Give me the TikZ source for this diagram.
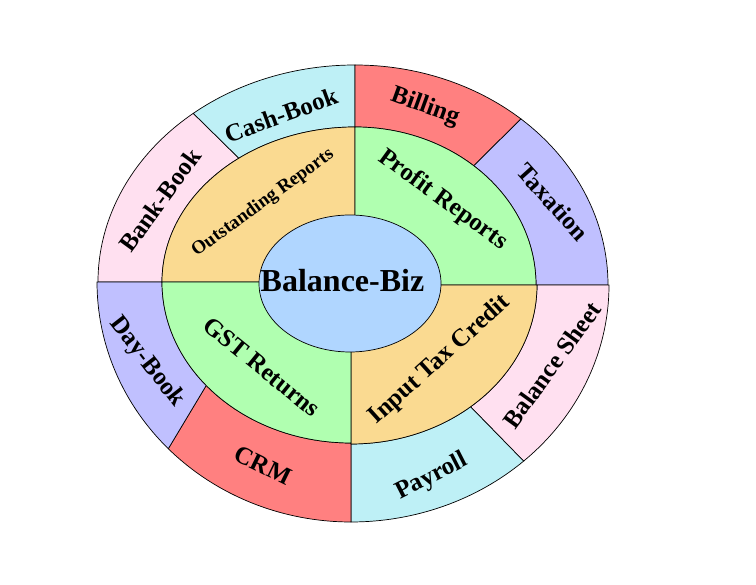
\documentclass[tikz,border=0pt]{standalone}
\usepackage{fontspec}
\setmainfont{Liberation Serif}
\usetikzlibrary{calc}

\definecolor{pinkc}{RGB}{255,224,240}
\definecolor{cyanc}{RGB}{190,240,246}
\definecolor{redc}{RGB}{255,128,128}
\definecolor{lavc}{RGB}{192,192,255}
\definecolor{orangec}{RGB}{250,218,145}
\definecolor{greenc}{RGB}{176,255,176}
\definecolor{bluec}{RGB}{176,214,255}

\begin{document}
\begin{tikzpicture}[x = 1pt, y = 1pt, line width = 0.7pt,
	lbl/.style = {font=\bfseries\fontsize{25}{30}\selectfont},
	small/.style = {font=\bfseries\fontsize{19}{23}\selectfont}]
		\path[use as bounding box, fill=white] (0,0) rectangle (756,585);
		\coordinate (tl) at (355,303);
		\coordinate (tr) at (355,300);
		\coordinate (br) at (351,300);
		\coordinate (bl) at (351,303);
		% outer ring
		\draw[fill=pinkc] ($(tl)+(180:257pt and 217pt)$) arc[start angle=180,end angle=129,x radius=257pt,y radius=217pt] -- ($(tl)+(127:193pt and 155pt)$) arc[start angle=127,end angle=180,x radius=193pt,y radius=155pt] -- cycle;
		\draw[fill=cyanc] ($(tl)+(129:257pt and 217pt)$) arc[start angle=129,end angle=90,x radius=257pt,y radius=217pt] -- ($(tl)+(90:193pt and 155pt)$) arc[start angle=90,end angle=127,x radius=193pt,y radius=155pt] -- cycle;
		\draw[fill=redc] ($(tr)+(90:253pt and 220pt)$) arc[start angle=90,end angle=49,x radius=253pt,y radius=220pt] -- ($(tr)+(49:181pt and 158pt)$) arc[start angle=49,end angle=90,x radius=181pt,y radius=158pt] -- cycle;
		\draw[fill=lavc] ($(tr)+(49:253pt and 220pt)$) arc[start angle=49,end angle=0,x radius=253pt,y radius=220pt] -- ($(tr)+(0:181pt and 158pt)$) arc[start angle=0,end angle=49,x radius=181pt,y radius=158pt] -- cycle;
		\draw[fill=pinkc] ($(br)+(0:258pt and 237pt)$) arc[start angle=0,end angle=-48,x radius=258pt,y radius=237pt] -- ($(br)+(-50:186pt and 159pt)$) arc[start angle=-50,end angle=0,x radius=186pt,y radius=159pt] -- cycle;
		\draw[fill=cyanc] ($(br)+(-48:258pt and 237pt)$) arc[start angle=-48,end angle=-90,x radius=258pt,y radius=237pt] -- ($(br)+(-90:186pt and 159pt)$) arc[start angle=-90,end angle=-50,x radius=186pt,y radius=159pt] -- cycle;
		\draw[fill=redc] ($(bl)+(270:254pt and 240pt)$) arc[start angle=270,end angle=224,x radius=254pt,y radius=240pt] -- ($(bl)+(220:189pt and 161pt)$) arc[start angle=220,end angle=270,x radius=189pt,y radius=161pt] -- cycle;
		\draw[fill=lavc] ($(bl)+(224:254pt and 240pt)$) arc[start angle=224,end angle=180,x radius=254pt,y radius=240pt] -- ($(bl)+(180:189pt and 161pt)$) arc[start angle=180,end angle=220,x radius=189pt,y radius=161pt] -- cycle;
		% middle ring
		\draw[fill=orangec] (tl) -- ($(tl)+(180:193pt and 155pt)$) arc[start angle=180,end angle=90,x radius=193pt,y radius=155pt] -- cycle;
		\draw[fill=greenc] (tr) -- ($(tr)+(90:181pt and 158pt)$) arc[start angle=90,end angle=0,x radius=181pt,y radius=158pt] -- cycle;
		\draw[fill=orangec] (br) -- ($(br)+(0:186pt and 159pt)$) arc[start angle=0,end angle=-90,x radius=186pt,y radius=159pt] -- cycle;
		\draw[fill=greenc] (bl) -- ($(bl)+(270:189pt and 161pt)$) arc[start angle=270,end angle=180,x radius=189pt,y radius=161pt] -- cycle;
		% centre
		\draw[fill=bluec] (350,301.5) ellipse [x radius=91pt, y radius=68.5pt];
		\node[font=\bfseries\fontsize{32}{38}\selectfont] (biz) at (342.5,304) {Balance-Biz};
		% labels
		\node[lbl, rotate=20] (cash) at (281,470) {Cash-Book};
		\node[lbl, rotate=-20] (billing) at (425,478) {Billing};
		\node[lbl, rotate=-48] (tax) at (553,383) {Taxation};
		\node[lbl, rotate=54] (bank) at (160,385) {Bank-Book};
		\node[small, rotate=36] (outst) at (263,382) {Outstanding Reports};
		\node[lbl, rotate=-36] (profit) at (443,385) {Profit Reports};
		\node[lbl, rotate=-52] (day) at (147,223) {Day-Book};
		\node[lbl, rotate=-39] (gst) at (262,218) {GST Returns};
		\node[lbl, rotate=-26] (crm) at (263,120) {CRM};
		\node[lbl, rotate=42] (itc) at (440,225) {Input Tax Credit};
		\node[lbl, rotate=54] (sheet) at (552,220) {Balance Sheet};
		\node[lbl, rotate=27] (payroll) at (432,108) {Payroll};
	\end{tikzpicture}
\end{document}
